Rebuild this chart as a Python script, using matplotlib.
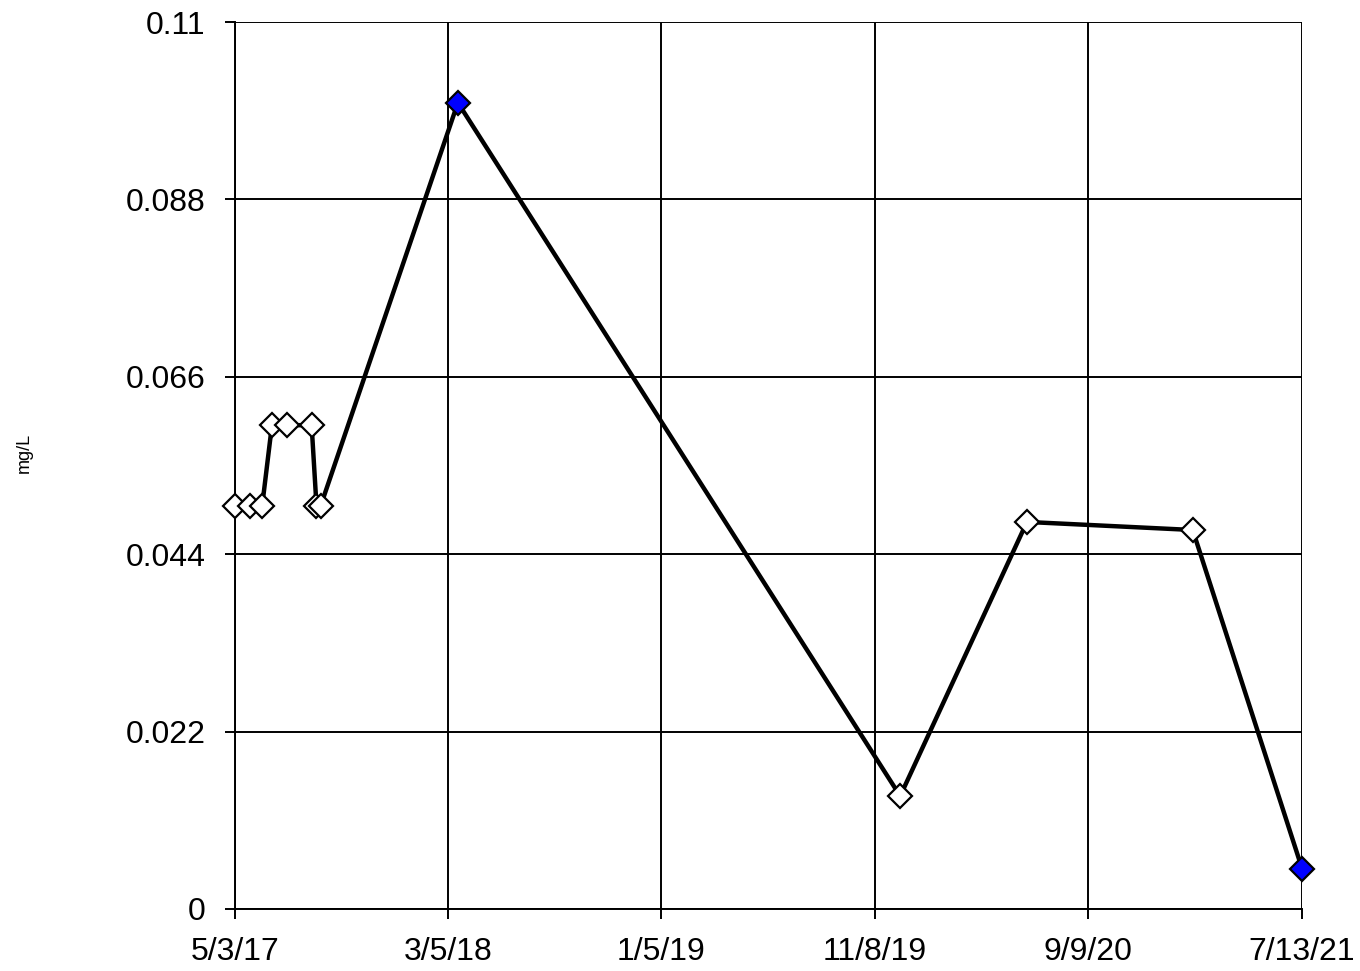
import datetime as dt
import matplotlib
matplotlib.use('Agg')
import matplotlib.pyplot as plt

plt.rcParams['font.family'] = ['Liberation Sans', 'DejaVu Sans']

dates = ['2017-05-03', '2017-05-24', '2017-06-11', '2017-06-25', '2017-07-16',
         '2017-08-21', '2017-08-28', '2017-09-03', '2018-03-19', '2019-12-14',
         '2020-06-13', '2021-02-06', '2021-07-13']
values = [0.05, 0.05, 0.05, 0.06, 0.06, 0.06, 0.05, 0.05, 0.1, 0.014,
          0.048, 0.047, 0.005]
# blue = flagged samples
flagged = [False] * 8 + [True, False, False, False, True]

tick_dates = ['2017-05-03', '2018-03-05', '2019-01-05', '2019-11-08',
              '2020-09-09', '2021-07-13']
tick_labels = ['5/3/17', '3/5/18', '1/5/19', '11/8/19', '9/9/20', '7/13/21']
y_ticks = [0, 0.022, 0.044, 0.066, 0.088, 0.11]
y_labels = ['0', '0.022', '0.044', '0.066', '0.088', '0.11']

x = [dt.datetime.strptime(d, '%Y-%m-%d') for d in dates]
xt = [dt.datetime.strptime(d, '%Y-%m-%d') for d in tick_dates]

fig = plt.figure(figsize=(13.6, 9.71), dpi=100)
ax = fig.add_axes([0.1728, 0.0639, 0.7846, 0.9134])

ax.plot(x, values, color='black', lw=3.2, zorder=3)
for xi, yi, f in zip(x, values, flagged):
    ax.plot(xi, yi, marker='D', ms=12.5, mec='black', mew=1.6,
            mfc='#0000ff' if f else 'white', zorder=4, clip_on=False)

ax.set_xlim(xt[0], xt[-1])
ax.set_ylim(0, 0.11)
ax.set_xticks(xt)
ax.set_xticklabels(tick_labels)
ax.set_yticks(y_ticks)
ax.set_yticklabels(y_labels)
ax.grid(True, color='black', lw=1.4)
ax.set_axisbelow(True)
ax.tick_params(labelsize=23, length=7, width=1.4, direction='out')
ax.tick_params(axis='x', pad=13)
ax.tick_params(axis='y', pad=14)
for s in ax.spines.values():
    s.set_linewidth(1.4)
ax.spines['top'].set_visible(False)
ax.spines['right'].set_visible(False)

fig.text(0.018, 0.534, 'mg/L', rotation=90, fontsize=13, ha='center', va='center')

fig.savefig('out.png', dpi=100)
